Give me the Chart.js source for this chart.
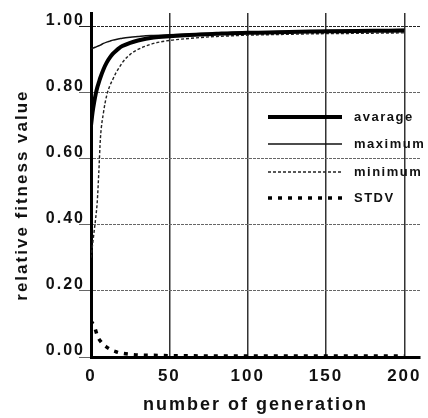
<!DOCTYPE html>
<html lang="en">
<head>
  <meta charset="UTF-8">
  <title>Relative fitness</title>
  <script src="https://cdn.jsdelivr.net/npm/chart.js"></script>
  <style>
    body {
      margin: 0;
      background-color: #fff;
    }
    #wrap {
      width: 428px;
      height: 418px;
    }
  </style>
</head>
<body>
<div id="wrap">
  <canvas id="fitnessChart" width="428" height="418"></canvas>
</div>

<script>
    const generations = [0, 1, 2, 3, 4, 5, 6, 8, 10, 12, 14, 16, 18, 20, 25, 30, 35, 40, 50, 60, 70, 80, 90, 100, 120, 140, 160, 180, 200];
    const average = [0.70, 0.74, 0.77, 0.795, 0.815, 0.83, 0.845, 0.87, 0.89, 0.905, 0.917, 0.926, 0.934, 0.94, 0.95, 0.957, 0.962, 0.966, 0.970, 0.973, 0.975, 0.977, 0.979, 0.980, 0.982, 0.984, 0.985, 0.986, 0.987];
    const maximum = [0.933, 0.934, 0.935, 0.937, 0.939, 0.941, 0.943, 0.948, 0.952, 0.955, 0.958, 0.960, 0.962, 0.964, 0.967, 0.969, 0.971, 0.972, 0.974, 0.976, 0.978, 0.979, 0.981, 0.982, 0.984, 0.986, 0.988, 0.989, 0.990];
    const minimum = [0.30, 0.34, 0.38, 0.42, 0.47, 0.56, 0.66, 0.74, 0.79, 0.82, 0.84, 0.86, 0.875, 0.89, 0.915, 0.93, 0.94, 0.948, 0.957, 0.962, 0.966, 0.969, 0.971, 0.973, 0.975, 0.977, 0.978, 0.979, 0.980];
    const stdv = [0.110, 0.102, 0.095, 0.080, 0.065, 0.055, 0.048, 0.037, 0.030, 0.024, 0.019, 0.016, 0.013, 0.011, 0.008, 0.006, 0.005, 0.005, 0.004, 0.004, 0.003, 0.003, 0.003, 0.003, 0.003, 0.003, 0.003, 0.003, 0.003];

    const xTicks = [0, 50, 100, 150, 200];
    const yTicks = [0, 0.2, 0.4, 0.6, 0.8, 1.0];
    const seriesNames = ['avarage', 'maximum', 'minimum', 'STDV'];

    const font = "'Liberation Sans', Arial, sans-serif";

    function toPoints(values) {
        return generations.map((g, i) => ({ x: g, y: values[i] }));
    }

    // spacing between letters, like the scanned figure
    const spacingPlugin = {
        id: 'spacing',
        beforeDraw(chart) {
            chart.ctx.letterSpacing = '2px';
        }
    };

    // legend sits inside the plot on the right side
    const insideLegend = {
        id: 'insideLegend',
        afterDatasetsDraw(chart) {
            const ctx = chart.ctx;
            const x0 = 268, x1 = 342, tx = 354;
            const rows = [117, 144, 172, 198];
            ctx.save();
            chart.data.datasets.forEach((ds, i) => {
                const y = rows[i];
                ctx.beginPath();
                ctx.lineWidth = ds.borderWidth;
                ctx.strokeStyle = ds.borderColor;
                ctx.setLineDash(ds.borderDash || []);
                ctx.moveTo(x0, y);
                ctx.lineTo(x1, y);
                ctx.stroke();
                ctx.setLineDash([]);
                ctx.letterSpacing = '1.5px';
                ctx.fillStyle = '#111';
                ctx.font = 'bold 13px ' + font;
                ctx.textBaseline = 'middle';
                ctx.textAlign = 'left';
                ctx.fillText(ds.label, tx, y);
            });
            ctx.restore();
        }
    };

    new Chart(document.getElementById('fitnessChart').getContext('2d'), {
        type: 'line',
        data: {
            datasets: [
                {
                    label: seriesNames[0],
                    data: toPoints(average),
                    borderColor: '#000',
                    borderWidth: 4,
                    cubicInterpolationMode: 'monotone'
                },
                {
                    label: seriesNames[1],
                    data: toPoints(maximum),
                    borderColor: '#111',
                    borderWidth: 1.5,
                    cubicInterpolationMode: 'monotone'
                },
                {
                    label: seriesNames[2],
                    data: toPoints(minimum),
                    borderColor: '#222',
                    borderWidth: 1.4,
                    borderDash: [3, 2],
                    cubicInterpolationMode: 'monotone'
                },
                {
                    label: seriesNames[3],
                    data: toPoints(stdv),
                    borderColor: '#000',
                    borderWidth: 3.5,
                    borderDash: [4, 6],
                    cubicInterpolationMode: 'monotone'
                }
            ]
        },
        options: {
            responsive: false,
            animation: false,
            devicePixelRatio: 1,
            elements: { point: { radius: 0 } },
            layout: { padding: { top: 13, right: 8, left: 0, bottom: 0 } },
            plugins: {
                legend: { display: false },
                tooltip: { enabled: false }
            },
            scales: {
                x: {
                    type: 'linear',
                    min: 0,
                    max: 210,
                    afterBuildTicks: s => { s.ticks = xTicks.map(v => ({ value: v })); },
                    afterFit: s => { s.height = 61; },
                    grid: {
                        color: '#333',
                        lineWidth: 1.5,
                        drawTicks: false
                    },
                    border: { color: '#000', width: 3 },
                    ticks: {
                        color: '#111',
                        padding: 9,
                        maxRotation: 0,
                        font: { family: font, size: 17, weight: 'bold' }
                    },
                    title: {
                        display: true,
                        text: 'number of generation',
                        color: '#111',
                        padding: { top: 0, bottom: 2 },
                        font: { family: font, size: 18, weight: 'bold' }
                    }
                },
                y: {
                    min: 0,
                    max: 1.04,
                    afterBuildTicks: s => { s.ticks = yTicks.map(v => ({ value: v })); },
                    afterFit: s => { s.width = 91; },
                    grid: {
                        color: ctx => (ctx.tick && ctx.tick.value === 1 ? '#222' : '#666'),
                        lineWidth: 1,
                        tickLength: 12
                    },
                    border: { color: '#000', width: 3, dash: [3, 1] },
                    ticks: {
                        color: '#111',
                        padding: -6,
                        labelOffset: -6,
                        callback: v => v.toFixed(2),
                        font: { family: font, size: 16, weight: 'bold' }
                    },
                    title: {
                        display: true,
                        text: 'relative fitness value   ',
                        color: '#111',
                        padding: { top: 12, bottom: 0 },
                        font: { family: font, size: 17, weight: 'bold' }
                    }
                }
            }
        },
        plugins: [spacingPlugin, insideLegend]
    });
</script>
</body>
</html>
